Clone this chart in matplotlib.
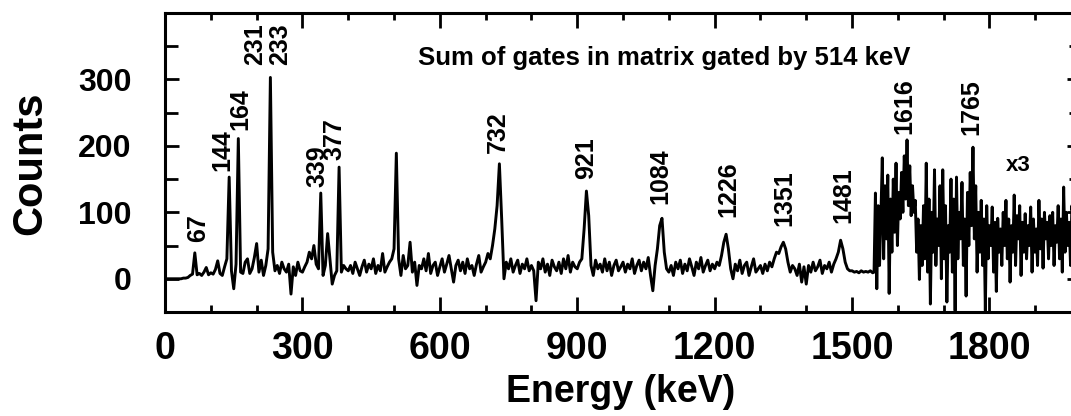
# Gamma-ray coincidence spectrum: sum of gates gated by 514 keV

import numpy as np
import matplotlib
matplotlib.use('Agg')
import matplotlib.pyplot as plt
from matplotlib.ticker import MultipleLocator

# counts for 0 - 1545 keV, 5 keV per bin
counts_low = [
    0, 0, 0, 0, 0, 0, 0, 0, 1, 1, 2, 5, 7, 39, 6, 8, 5, 10, 17, 6,
    9, 7, 14, 27, 8, 5, 18, 30, 153, 12, -15, 22, 211, 10, 8, 25, 30, 8, 15, 32,
    53, 10, 28, 5, 20, 45, 303, 40, 12, 20, 8, 25, 15, 10, 22, -23, 18, 5, 25, 12,
    10, 18, 25, 40, 30, 50, 22, 15, 129, 5, 20, 68, 30, -8, 5, 12, 168, 10, 20, 15,
    12, 20, 8, 25, 15, 5, 18, 28, 10, 22, 15, 30, 8, 20, 12, 38, 10, 18, 25, 30,
    45, 189, 30, 5, 35, 15, 20, 55, 10, 25, -10, 20, 15, 30, 12, 38, 8, 20, 25, 5,
    18, 30, 10, 22, 35, 15, -5, 20, 28, 12, 25, 8, 30, 15, 20, 5, 22, 35, 10, 18,
    25, 38, 30, 50, 75, 110, 173, 90, 0, 25, 15, 30, 10, 20, 28, 8, 22, 15, 30, 12,
    20, 12, -33, 25, 15, 30, 10, 22, 5, 28, 18, 12, 25, 8, 30, 15, 35, 10, 25, 18,
    15, 25, 30, 75, 132, 95, 20, 5, 28, 15, 22, 10, 30, 12, 25, 5, 20, 28, 12, 18,
    25, 10, 22, 15, 30, 8, 20, 28, 12, 25, 15, 32, 5, -18, 20, 45, 80, 91, 40, 15,
    10, 20, 5, 25, 15, 28, 8, 22, 12, 30, 18, 5, 25, 15, 32, 10, 20, 28, 12, 22,
    15, 25, 20, 35, 55, 67, 45, 15, 0, 22, 12, 28, 8, 20, 25, 5, 18, 30, 10, 15,
    20, 8, 22, 12, 25, 18, 30, 40, 38, 48, 55, 45, 25, 10, 20, 15, 5, 22, -5, 18,
    -8, 20, 10, 25, 12, 18, 28, 8, 20, 15, 25, 10, 22, 30, 40, 58, 45, 25, 15, 12,
    12, 10, 11, 9, 12, 10, 11, 10, 12, 9,
]

# counts (scaled x3) for 1548 - 1998 keV, 3 keV per bin
counts_x3 = [
    10, 129, -15, 110, 20, 95, 182, 30, 140, 60,
    156, -22, 120, 40, 150, 70, 174, 50, 130, 90,
    160, 100, 185, 120, 209, 110, 170, 95, 140, 100,
    118, 40, 90, -1, 80, 20, 110, 30, 174, 10,
    120, -38, 100, 40, 164, 20, 90, 50, 140, 0,
    164, 30, 110, -35, 80, 40, 150, 10, 120, -48,
    153, 30, 100, 60, 145, 20, 90, -26, 130, 50,
    160, 80, 198, 60, 140, 10, 100, 40, 118, 20,
    90, -48, 110, 30, 80, 50, 108, 10, 85, -19,
    91, 40, 75, 20, 100, 50, 118, 30, 90, -5,
    80, 40, 126, 20, 95, 60, 110, 5, 85, 40,
    98, 30, 80, 50, 108, 10, 90, 40, 75, 20,
    118, 45, 90, 16, 100, 60, 85, 30, 95, 50,
    100, 20, 80, 55, 110, 30, 90, 10, 138, 40,
    100, 50, 85, 20, 110, 40, 90, 30, 100, 50, 80,
]

peak_labels = ['67', '144', '164', '231', '233', '339', '377', '732', '921',
               '1084', '1226', '1351', '1481', '1616', '1765']
label_energy = [72, 125, 164, 197, 251, 332, 371, 727, 919,
                1082, 1229, 1353, 1480, 1615, 1761]
label_counts = [77, 194, 255, 353, 353, 170, 211, 221, 182,
                155, 135, 121, 126, 260, 258]

FONT = 'Liberation Sans'


def plot():
    energy_low = np.arange(0, 1550, 5)
    energy_x3 = np.arange(1548, 2000, 3)
    energy = np.concatenate([energy_low, energy_x3])
    counts = np.concatenate([counts_low, counts_x3])

    fig = plt.figure(figsize=(10.71, 4.16), dpi=100)
    ax = fig.add_axes([0.1541, 0.25, 0.8553, 0.7188])
    ax.plot(energy, counts, color='black', linewidth=2.1)

    ax.set_xlim(0, 2000)
    ax.set_ylim(-50, 400)
    ax.xaxis.set_major_locator(MultipleLocator(300))
    ax.xaxis.set_minor_locator(MultipleLocator(100))
    ax.yaxis.set_major_locator(MultipleLocator(100))
    ax.yaxis.set_minor_locator(MultipleLocator(50))
    ax.set_yticks([0, 100, 200, 300])

    for spine in ax.spines.values():
        spine.set_linewidth(2.2)
    ax.tick_params(which='both', direction='in', top=True, right=True,
                   width=2)
    ax.tick_params(axis='x', which='major', length=11, pad=14,
                   labelsize=27)
    ax.tick_params(axis='x', which='minor', length=5)
    ax.tick_params(axis='y', which='major', length=10, pad=24,
                   labelsize=23)
    ax.tick_params(axis='y', which='minor', length=9)
    for lab in ax.get_xticklabels() + ax.get_yticklabels():
        lab.set_fontfamily(FONT)
        lab.set_fontweight('bold')

    for text, e, c in zip(peak_labels, label_energy, label_counts):
        ax.text(e, c, text, rotation=90, ha='center', va='center',
                fontsize=18, fontweight='bold', fontfamily=FONT)

    ax.text(1089, 333, 'Sum of gates in matrix gated by 514 keV',
            ha='center', va='center', fontsize=18.5, fontweight='bold',
            fontfamily=FONT)
    ax.text(1863, 171, 'x3', ha='center', va='center', fontsize=16,
            fontweight='bold', fontfamily=FONT)

    fig.text(30 / 1071, 1 - 163 / 416, 'Counts', rotation=90,
             ha='center', va='center', fontsize=30, fontweight='bold',
             fontfamily=FONT)
    fig.text(621 / 1071, 1 - 392 / 416, 'Energy (keV)', ha='center',
             va='center', fontsize=27, fontweight='bold', fontfamily=FONT)

    fig.savefig('out.png', dpi=100)


plot()
